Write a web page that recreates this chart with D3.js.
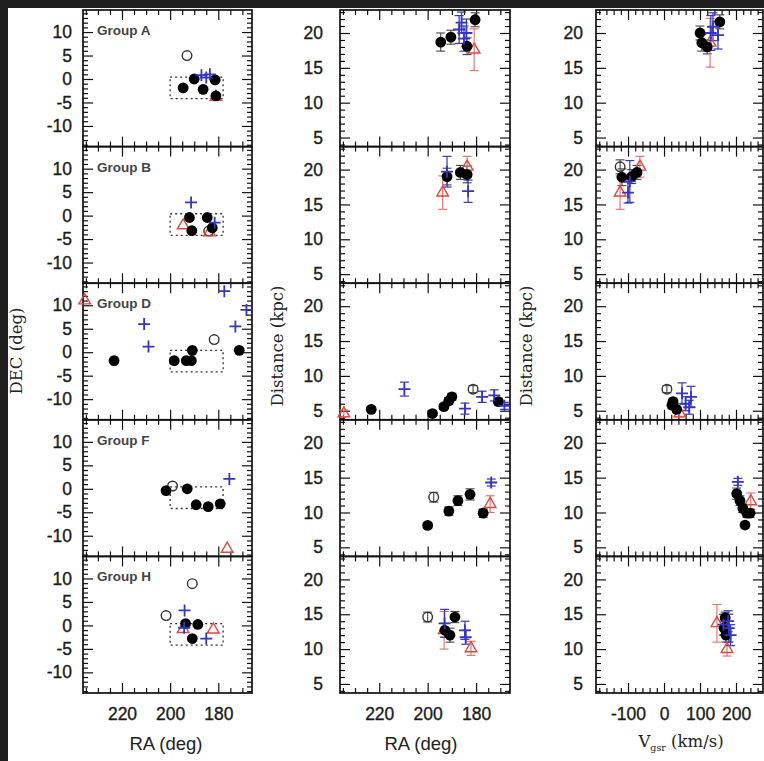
<!DOCTYPE html>
<html><head><meta charset="utf-8">
<script src="https://cdn.jsdelivr.net/npm/d3@7"></script>
<style>html,body{margin:0;padding:0;background:#1e1e1e;}svg{display:block}</style>
</head><body><div id="chart"></div>
<script>
// Groups shown row by row
const groupKeys = ["A", "B", "D", "F", "H"];
const groupNames = ["Group A", "Group B", "Group D", "Group F", "Group H"];

// Tick values
const raTicks = [220, 200, 180];
const decTicks = [-10, -5, 0, 5, 10];
const distTicks = [5, 10, 15, 20];
const vTicks = [-100, 0, 100, 200];

// Selection box on the sky (RA range, DEC range)
const boxRA = [200, 178];
const boxDEC = [-4.2, 0.4];

// RA / DEC positions: [group, RA, DEC]
const skyMembers = [
  ["A",194.6,-1.9],["A",190,0],["A",186.3,-2.2],["A",181.3,-0.2],["A",181,-3.6],
  ["B",192,-0.4],["B",191,-3.2],["B",184.6,-0.4],["B",182.5,-2.6],
  ["D",223.3,-1.8],["D",198.3,-1.8],["D",193.3,-1.8],["D",191.2,-1.8],["D",190.8,0.4],["D",171.3,0.4],
  ["F",201.7,-0.4],["F",192.9,0],["F",189.2,-3.4],["F",184.2,-3.8],["F",179.2,-3.2],
  ["H",193.6,0.4],["H",188.5,0.2],["H",190.8,-2.8]
];
const skyOpen = [
  ["A",193,5],["B",184,-3.3],["D",181.7,2.7],["F",199,0.6],["H",190.8,8.9],["H",201.7,2.1]
];
const skyBlue = [
  ["A",187,0.8],["A",185,0.3],["A",183.5,1],
  ["B",191.3,2.8],["B",181.5,-1.5],
  ["D",210.8,6],["D",209,1.2],["D",177.5,13],["D",172.9,5.5],["D",168.3,9],
  ["F",175.4,2.1],
  ["H",194,3.2],["H",185,-2.8],["H",194.2,-0.5]
];
const skyRed = [
  ["A",181,-3.8],["B",194.6,-2.1],["B",183.7,-3.6],["D",235.5,11],["F",176.3,-12.8],
  ["H",194.6,-0.8],["H",182.1,-0.9]
];

// RA / distance: [group, RA, distance kpc, error kpc]
const raDistMembers = [
  ["A",194.6,18.7,1.3],["A",190.4,19.4,1],["A",183.75,18.1,1.2],["A",180.4,21.9,1],
  ["B",192,19,1.2],["B",186.5,19.6,1],["B",183.7,19.3,1.2],
  ["D",223.3,5.2,0.4],["D",198,4.6,0.4],["D",193.3,5.6,0.4],["D",191.3,6.4,0.5],["D",190,7,0.5],["D",170.8,6.3,0.5],
  ["F",200,8.15,0.4],["F",191.25,10.2,0.6],["F",187.5,11.7,0.7],["F",182.5,12.6,0.8],["F",177.1,9.9,0.6],
  ["H",192.9,12.7,1],["H",190.8,12.0,1],["H",188.75,14.6,0.8]
];
const raDistOpen = [
  ["D",181.25,8.1,0.5],["F",197.5,12.2,0.7],["H",200,14.6,0.7]
];
const raDistBlue = [
  ["A",187,20.5,2],["A",186,21.5,1.5],["A",185,19.2,1.8],["A",184,20,2],
  ["B",192,19.7,2.2],["B",183.3,16.9,1.6],
  ["D",209.6,8.1,1],["D",184.6,5.3,0.8],["D",177.5,7,0.8],["D",172.5,7.2,0.8],["D",168.3,5.7,0.5],
  ["F",173.75,14.3,0.5],
  ["H",193,13.7,2],["H",184.6,12.7,1.3],["H",184.3,11.7,1]
];
const raDistRed = [
  ["A",180.8,17.6,3],["B",193.8,16.7,2.4],["B",183.7,20.4,1.5],["D",234.6,4.6,0.5],
  ["F",174.2,11.2,1.2],["H",193.2,12.7,2.7],["H",182.1,10.1,1]
];

// Vgsr / distance: [group, Vgsr km/s, distance kpc, error kpc]
const velDistMembers = [
  ["A",100,20,1],["A",105,18.6,1.2],["A",155,21.6,1],["A",120,18,1],
  ["B",-117,18.9,1.2],["B",-75,19.6,1],["B",-90,19,1],
  ["D",25,6.3,0.5],["D",22,5.8,0.5],["D",35,5.2,0.4],
  ["F",202,12.7,0.8],["F",211,11.7,0.7],["F",219,10.6,0.6],["F",230,9.9,0.6],["F",239,9.9,0.6],["F",225,8.2,0.4],
  ["H",167,13,1],["H",172,12,1],["H",170,14.5,0.8]
];
const velDistOpen = [
  ["B",-122,20.4,1],["D",8,8.1,0.5]
];
const velDistBlue = [
  ["A",136,20.9,2],["A",150,19.7,2],["A",130,20,2.5],
  ["B",-95,18.3,3],["B",-100,16.7,1.5],
  ["D",50,7.5,1.5],["D",60,6,1],["D",70,5.5,1],["D",75,7,1.5],
  ["F",205,14.4,0.5],
  ["H",165,13.5,1.5],["H",180,13,2],["H",185,12,1.5],["H",178,14,1.5]
];
const velDistRed = [
  ["A",128,18.6,3.5],["B",-122,16.7,2.4],["B",-67,20.4,1.5],["D",44,4.6,0.5],
  ["F",241,11.6,1.2],["H",147,13.7,2.7],["H",175,10,1]
];

// ---------------------------------------------------------------
const W = 764, H = 761;
const colX = [[83, 252], [340, 510], [596, 763]];
const rowTop = 10, rowH = 136.6;
const raDomain = [236.2, 166];
const decDomain = [-14.4, 14.7];
const distDomain = [3.7, 23.3];
const velDomain = [-189, 275];

const BLACK = "#000", BLUE = "#3535c4", RED = "#e0463f";
const sansFont = "'Liberation Sans', Arial, sans-serif";
const serifFont = "'DejaVu Serif', 'Liberation Serif', serif";
const plainNumber = d => String(d);   // ASCII hyphen for negatives

const svg = d3.select("#chart").append("svg").attr("width", W).attr("height", H);
svg.append("rect").attr("x", 8).attr("y", 8).attr("width", W - 8).attr("height", H - 8).attr("fill", "#fff");

function makeScales(col, row) {
  const top = rowTop + row * rowH, bottom = top + rowH;
  const xDom = col === 2 ? velDomain : raDomain;
  const yDom = col === 0 ? decDomain : distDomain;
  return {
    x: d3.scaleLinear().domain(xDom).range(colX[col]),
    y: d3.scaleLinear().domain(yDom).range([bottom, top]),
    top, bottom
  };
}

function range(a, b, s) { return d3.range(a, b + s / 2, s); }

function styleLabels(sel) {
  sel.selectAll("text").attr("font-family", sansFont).attr("font-size", 17.5).attr("fill", "#1c1c1c")
    .attr("stroke", "#1c1c1c").attr("stroke-width", 0.35);
}

function drawFrame(g, s, col, row) {
  const [x0, x1] = colX[col];
  const xMajor = col === 2 ? vTicks : raTicks;
  const xMinor = col === 2 ? range(-180, 260, 20) : range(170, 235, 5);
  const yMajor = col === 0 ? decTicks : distTicks;
  const yMinor = col === 0 ? range(-14, 14, 1) : range(4, 23, 1);

  const axes = [
    [d3.axisBottom, s.bottom, "x"], [d3.axisTop, s.top, "x"],
    [d3.axisLeft, x0, "y"], [d3.axisRight, x1, "y"]
  ];
  axes.forEach(([fn, pos, dim]) => {
    const sc = dim === "x" ? s.x : s.y;
    const major = dim === "x" ? xMajor : yMajor;
    const minor = (dim === "x" ? xMinor : yMinor).filter(v => !major.includes(v));
    const tr = dim === "x" ? `translate(0,${pos})` : `translate(${pos},0)`;
    [[minor, 5], [major, 10]].forEach(([vals, len]) => {
      const ax = g.append("g").attr("transform", tr)
        .call(fn(sc).tickValues(vals).tickSize(-len).tickFormat(""));
      ax.select(".domain").remove();
      ax.selectAll("line").attr("stroke", "#111").attr("stroke-width", 1.2);
    });
  });
  g.append("rect").attr("x", x0).attr("y", s.top).attr("width", x1 - x0).attr("height", s.bottom - s.top)
    .attr("fill", "none").attr("stroke", "#111").attr("stroke-width", 1.7);

  // y labels
  const yOff = [11, 17, 13][col];
  const ly = g.append("g").attr("transform", `translate(${x0},0)`)
    .call(d3.axisLeft(s.y).tickValues(yMajor).tickSize(0).tickPadding(yOff).tickFormat(plainNumber));
  ly.select(".domain").remove();
  styleLabels(ly);

  if (row === 4) {
    const lx = g.append("g").attr("transform", `translate(0,${s.bottom})`)
      .call(d3.axisBottom(s.x).tickValues(xMajor).tickSize(0).tickPadding(15).tickFormat(plainNumber));
    lx.select(".domain").remove();
    styleLabels(lx);
  }
}

function errorBars(g, s, rows, color, width) {
  rows.forEach(([, xv, yv, e]) => {
    const cx = s.x(xv), ya = s.y(yv - e), yb = s.y(yv + e);
    g.append("line").attr("x1", cx).attr("x2", cx).attr("y1", ya).attr("y2", yb)
      .attr("stroke", color).attr("stroke-width", width);
    [ya, yb].forEach(yy => g.append("line").attr("x1", cx - 4.5).attr("x2", cx + 4.5).attr("y1", yy).attr("y2", yy)
      .attr("stroke", color).attr("stroke-width", width));
  });
}

function plus(g, s, rows, color) {
  rows.forEach(([, xv, yv]) => {
    const cx = s.x(xv), cy = s.y(yv);
    g.append("path").attr("d", `M${cx - 6},${cy}H${cx + 6}M${cx},${cy - 6}V${cy + 6}`)
      .attr("stroke", color).attr("stroke-width", 1.8).attr("fill", "none");
  });
}

function triangles(g, s, rows) {
  const sym = d3.symbol().type(d3.symbolTriangle).size(58);
  rows.forEach(([, xv, yv]) => {
    g.append("path").attr("d", sym()).attr("transform", `translate(${s.x(xv)},${s.y(yv)})`)
      .attr("fill", "none").attr("stroke", RED).attr("stroke-width", 1.4);
  });
}

function circles(g, s, rows, filled) {
  rows.forEach(([, xv, yv]) => {
    g.append("circle").attr("cx", s.x(xv)).attr("cy", s.y(yv)).attr("r", filled ? 5.4 : 4.8)
      .attr("fill", filled ? BLACK : "none").attr("stroke", filled ? "none" : "#333").attr("stroke-width", 1.4);
  });
}

const panels = [
  { members: skyMembers, open: skyOpen, blue: skyBlue, red: skyRed, errors: false },
  { members: raDistMembers, open: raDistOpen, blue: raDistBlue, red: raDistRed, errors: true },
  { members: velDistMembers, open: velDistOpen, blue: velDistBlue, red: velDistRed, errors: true }
];

groupKeys.forEach((key, row) => {
  panels.forEach((p, col) => {
    const s = makeScales(col, row);
    const g = svg.append("g");
    const pick = arr => arr.filter(d => d[0] === key);
    drawFrame(g, s, col, row);

    if (col === 0) {
      g.append("text").attr("x", colX[0][0] + 14).attr("y", s.top + 25).text(groupNames[row])
        .attr("font-family", sansFont).attr("font-weight", "bold").attr("font-size", 13.5).attr("fill", "#444");
      g.append("rect")
        .attr("x", s.x(boxRA[0])).attr("y", s.y(boxDEC[1]))
        .attr("width", s.x(boxRA[1]) - s.x(boxRA[0])).attr("height", s.y(boxDEC[0]) - s.y(boxDEC[1]))
        .attr("fill", "none").attr("stroke", "#333").attr("stroke-width", 1.3).attr("stroke-dasharray", "2,3");
    }
    const m = g.append("g");
    if (p.errors) {
      errorBars(m, s, pick(p.members), "#444", 1.1);
      errorBars(m, s, pick(p.open), "#444", 1.1);
      errorBars(m, s, pick(p.red), "#e86a64", 1.1);
      errorBars(m, s, pick(p.blue), BLUE, 1.2);
    }
    circles(m, s, pick(p.open), false);
    triangles(m, s, pick(p.red));
    circles(m, s, pick(p.members), true);
    plus(m, s, pick(p.blue), BLUE);
  });
});

// axis titles
svg.append("text").attr("transform", "translate(22,351) rotate(-90)").attr("text-anchor", "middle")
  .attr("font-family", serifFont).attr("font-size", 16.5).attr("fill", "#222").text("DEC (deg)");
[283, 532].forEach(xx => svg.append("text").attr("transform", `translate(${xx},346) rotate(-90)`)
  .attr("text-anchor", "middle").attr("font-family", serifFont).attr("font-size", 16.5).attr("fill", "#222")
  .text("Distance (kpc)"));
[166, 421].forEach(xx => svg.append("text").attr("x", xx).attr("y", 750).attr("text-anchor", "middle")
  .attr("font-family", sansFont).attr("font-size", 18.5).attr("fill", "#222").text("RA (deg)"));
const vt = svg.append("text").attr("x", 681).attr("y", 747).attr("text-anchor", "middle")
  .attr("font-family", serifFont).attr("font-size", 16.5).attr("fill", "#222");
vt.append("tspan").text("V");
vt.append("tspan").attr("font-size", 9.5).attr("dy", 4).text("gsr");
vt.append("tspan").attr("dy", -4).text(" (km/s)");
</script></body></html>
